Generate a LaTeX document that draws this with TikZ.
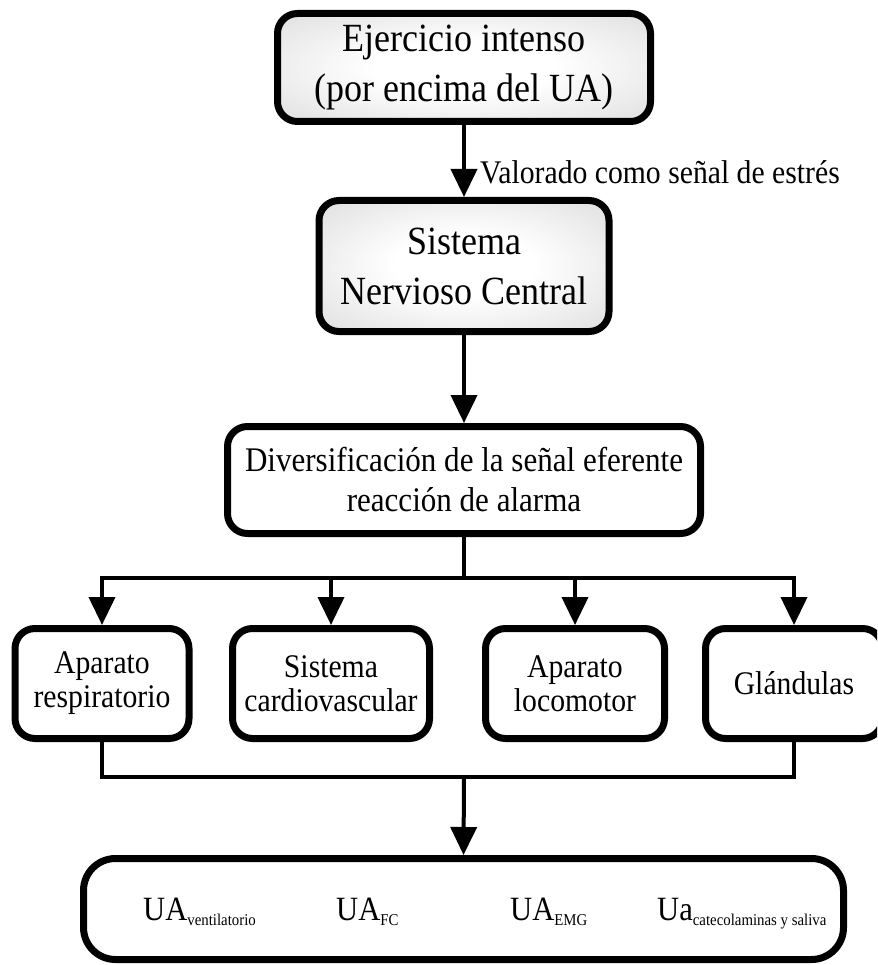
\documentclass[tikz,border=0pt]{standalone}
\usepackage{fontspec}
\setmainfont{Liberation Serif}[FakeStretch=0.9]
\usetikzlibrary{arrows.meta}
\pgfdeclareradialshading{softrad}{\pgfpoint{0bp}{0bp}}{color(0bp)=(white); color(12bp)=(white); color(50bp)=(black!20); color(71bp)=(black!27)}
\begin{document}
\begin{tikzpicture}[x=1pt,y=-1pt,
  box/.style={draw, line width=7pt, rounded corners=20pt, align=center, inner sep=0pt},
  shadedbox/.style={box, shading=softrad, shade},
  conn/.style={line width=4pt, -{Triangle[length=28pt,width=26pt]}},
  plainline/.style={line width=4pt},
  bigtxt/.style={font=\fontsize{40}{50}\selectfont},
  midtxt/.style={font=\fontsize{34.5}{40}\selectfont},
  smalltxt/.style={font=\fontsize{33}{34}\selectfont},
  ualabel/.style={anchor=base west, inner sep=0pt}]
\useasboundingbox (0,0) rectangle (877,965);
\clip (0,0) rectangle (877,965);
\newcommand{\uamain}[2]{{\fontsize{34}{34}\selectfont #1}\raisebox{-5pt}{\fontsize{16.5}{16.5}\selectfont #2}}

\node[shadedbox, bigtxt, minimum width=373pt, minimum height=108pt] (ej) at (464,67.5) {Ejercicio intenso\\(por encima del UA)};
\node[shadedbox, bigtxt, minimum width=290pt, minimum height=131pt] (snc) at (464,266) {Sistema\\Nervioso Central};
\node[box, midtxt, minimum width=473pt, minimum height=107pt] (div) at (464,480) {Diversificación de la señal eferente\\reacción de alarma};

\node[box, smalltxt, minimum width=174pt, minimum height=110pt] (ar) at (102,683.5) {Aparato\\respiratorio};
\node[box, smalltxt, minimum width=197pt, minimum height=110pt] (sc) at (331,683.5) {Sistema\\cardiovascular};
\node[box, smalltxt, minimum width=179pt, minimum height=110pt] (al) at (575,683.5) {Aparato\\locomotor};
\node[box, smalltxt, minimum width=177pt, minimum height=110pt] (gl) at (794,683.5) {Glándulas};

\node[box, rounded corners=32pt, minimum width=760pt, minimum height=101pt] (ua) at (463.5,909) {};
\node[ualabel] (u1) at (143,920) {\uamain{UA}{ventilatorio}};
\node[ualabel] (u2) at (336,920) {\uamain{UA}{FC}};
\node[ualabel] (u3) at (510,920) {\uamain{UA}{EMG}};
\node[ualabel] (u4) at (657,920) {\uamain{Ua}{catecolaminas y saliva}};

\node[anchor=west, inner sep=0pt, font=\fontsize{33}{33}\selectfont] (lab) at (480,172) {Valorado como señal de estrés};

\draw[conn] (ej.south) -- (snc.north);
\draw[conn] (snc.south) -- (div.north);

\coordinate (split) at (464,578);
\draw[plainline] (div.south) -- (split);
\draw[conn] (split) -| (ar.north);
\draw[conn] (split) -| (gl.north);
\draw[conn] (sc.north |- split) -- (sc.north);
\draw[conn] (al.north |- split) -- (al.north);

\coordinate (join) at (464,777);
\draw[plainline] (ar.south) |- (join) -| (gl.south);
\draw[conn] (join) -- (ua.north);
\end{tikzpicture}
\end{document}
